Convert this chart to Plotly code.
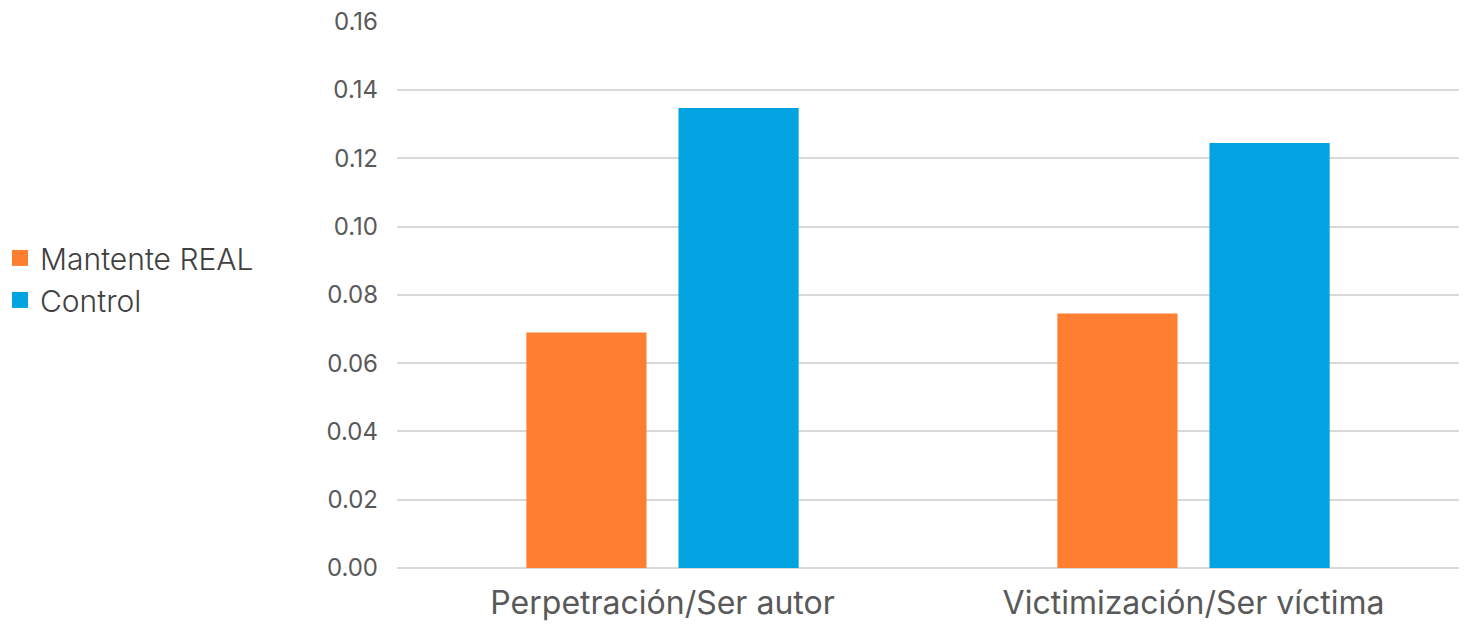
import plotly.graph_objects as go

categories = ["Perpetración/Ser autor", "Victimización/Ser víctima"]
series_names = ["Mantente REAL", "Control"]
mantente_real = [0.069, 0.0745]
control = [0.1347, 0.1245]
series_colors = ["#FF7F32", "#03A2E0"]
tick_vals = [0.00, 0.02, 0.04, 0.06, 0.08, 0.10, 0.12, 0.14, 0.16]
tick_text = ["0.00", "0.02", "0.04", "0.06", "0.08", "0.10", "0.12", "0.14", "0.16"]

FONT = "Inter"

fig = go.Figure()
for name, vals, col in zip(series_names, [mantente_real, control], series_colors):
    fig.add_trace(go.Bar(x=categories, y=vals, name=name, marker=dict(color=col, line=dict(width=0)),
                         showlegend=False, hoverinfo="x+y"))
    fig.add_trace(go.Scatter(x=[None], y=[None], mode="markers", name=name,
                             marker=dict(symbol="square", size=24, color=col), showlegend=True))

fig.update_layout(
    width=1471, height=624,
    paper_bgcolor="white", plot_bgcolor="white",
    margin=dict(l=397, r=12, t=21, b=56, autoexpand=False),
    barmode="group", bargap=0.427, bargroupgap=0.21,
    font=dict(family=FONT, color="#595959"),
    legend=dict(xref="container", yref="container", x=0.0, xanchor="left", y=0.553, yanchor="middle",
                font=dict(family=FONT, size=30, color="#404040", weight=300),
                itemsizing="trace", itemwidth=30, bgcolor="rgba(0,0,0,0)"),
    xaxis=dict(showgrid=False, showline=False, ticks="", zeroline=False, automargin=False,
               tickfont=dict(family=FONT, size=32, color="#595959"), ticklabelstandoff=13),
    yaxis=dict(range=[0, 0.1602], tickvals=tick_vals, ticktext=tick_text, automargin=False,
               showgrid=True, gridcolor="#D9D9D9", gridwidth=1.5,
               zeroline=True, zerolinecolor="#D9D9D9", zerolinewidth=1.5,
               showline=False, ticks="", ticklabelstandoff=18,
               tickfont=dict(family=FONT, size=24, color="#595959")),
)

fig.write_html("out.html", config={"displayModeBar": False},
               post_script="document.body.style.margin='0';document.body.style.overflow='hidden';")
